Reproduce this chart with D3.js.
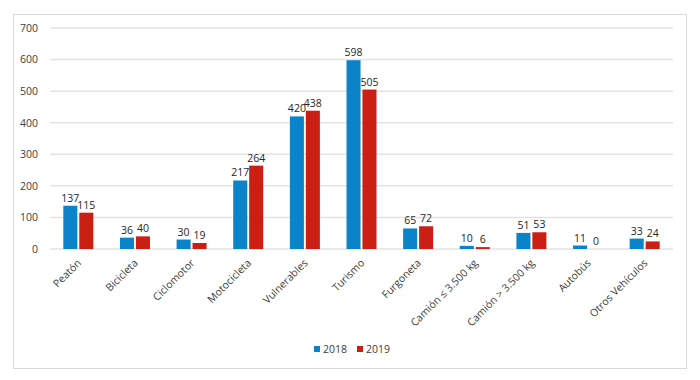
<!DOCTYPE html>
<html>
<head>
<meta charset="utf-8">
<script src="https://cdn.jsdelivr.net/npm/d3@7"></script>
<style>
  body { margin: 0; background: #fff; }
  text { font-family: "Open Sans", sans-serif; fill: #404040; }
</style>
</head>
<body>
<div id="chart"></div>
<script>
(function () {

  const categories = ['Peatón', 'Bicicleta', 'Ciclomotor', 'Motocicleta', 'Vulnerables', 'Turismo',
    'Furgoneta', 'Camión ≤ 3.500 kg', 'Camión > 3.500 kg', 'Autobús', 'Otros Vehículos']
  const values2018 = [137, 36, 30, 217, 420, 598, 65, 10, 51, 11, 33]
  const values2019 = [115, 40, 19, 264, 438, 505, 72, 6, 53, 0, 24]
  const seriesNames = ['2018', '2019']
  const yTicks = [0, 100, 200, 300, 400, 500, 600, 700]

  const colors = { '2018': '#0B83C9', '2019': '#CC1F14' }

  const margin = { top: 28, right: 27, bottom: 131, left: 50 }
  const width = 700 - margin.left - margin.right
  const height = 380 - margin.top - margin.bottom

  const root = d3.select('#chart').append('svg')
    .attr('width', 700)
    .attr('height', 380)

  // outer frame
  root.append('rect')
    .attr('x', 13.5)
    .attr('y', 14.5)
    .attr('width', 673)
    .attr('height', 354)
    .attr('fill', 'none')
    .attr('stroke', '#d9d9d9')

  const svg = root.append('g')
    .attr('transform', 'translate(' + margin.left + ',' + margin.top + ')')

  const xScale = d3.scaleBand()
    .domain(categories)
    .range([0, width])

  const xInner = d3.scaleBand()
    .domain(seriesNames)
    .range([xScale.bandwidth() / 2 - 15, xScale.bandwidth() / 2 + 15])
    .paddingInner(0.12)

  const yScale = d3.scaleLinear()
    .domain([0, 700])
    .range([height, 0])

  // gridlines
  svg.selectAll('.grid')
    .data(yTicks)
    .join('line')
    .attr('class', 'grid')
    .attr('x1', 0)
    .attr('x2', width)
    .attr('y1', d => yScale(d))
    .attr('y2', d => yScale(d))
    .attr('stroke', '#e3e3e3')
    .attr('stroke-width', 1.5)

  const yAxis = d3.axisLeft(yScale).tickValues(yTicks).tickSize(0).tickPadding(12)
  svg.append('g')
    .attr('class', 'axis y-axis')
    .call(yAxis)
    .call(g => g.select('.domain').remove())
    .selectAll('text')
    .style('font-size', '10.5px')

  const rows = categories.map((c, i) => ({ cat: c, '2018': values2018[i], '2019': values2019[i] }))

  const groups = svg.selectAll('.group')
    .data(rows)
    .join('g')
    .attr('class', 'group')
    .attr('transform', d => 'translate(' + xScale(d.cat) + ',0)')

  const bars = groups.selectAll('.bar')
    .data(d => seriesNames.map(s => ({ s: s, v: d[s] })))
    .join('g')
    .attr('class', 'bar')

  bars.append('rect')
    .attr('x', d => xInner(d.s))
    .attr('y', d => yScale(d.v))
    .attr('width', xInner.bandwidth())
    .attr('height', d => height - yScale(d.v))
    .attr('fill', d => colors[d.s])

  bars.append('text')
    .attr('x', d => xInner(d.s) + xInner.bandwidth() / 2)
    .attr('y', d => yScale(d.v) - 4)
    .attr('text-anchor', 'middle')
    .style('font-size', '10.5px')
    .style('fill', '#262626')
    .text(d => d.v)

  const xAxis = d3.axisBottom(xScale).tickSize(0).tickPadding(0)
  svg.append('g')
    .attr('class', 'axis x-axis')
    .attr('transform', 'translate(0,' + height + ')')
    .call(xAxis)
    .call(g => g.select('.domain').remove())
    .selectAll('text')
    .style('font-size', '10.5px')
    .attr('text-anchor', 'end')
    .attr('dy', '0.35em')
    .attr('transform', 'translate(1,12) rotate(-45)')

  // legend
  const legend = root.append('g')
    .attr('transform', 'translate(314,345)')

  const items = legend.selectAll('.item')
    .data(seriesNames)
    .join('g')
    .attr('class', 'item')
    .attr('transform', (d, i) => 'translate(' + (i * 43) + ',0)')

  items.append('rect')
    .attr('width', 6)
    .attr('height', 6)
    .attr('y', 1)
    .attr('fill', d => colors[d])

  items.append('text')
    .attr('x', 9)
    .attr('y', 8)
    .style('font-size', '10.5px')
    .text(d => d)

})();
</script>
</body>
</html>
